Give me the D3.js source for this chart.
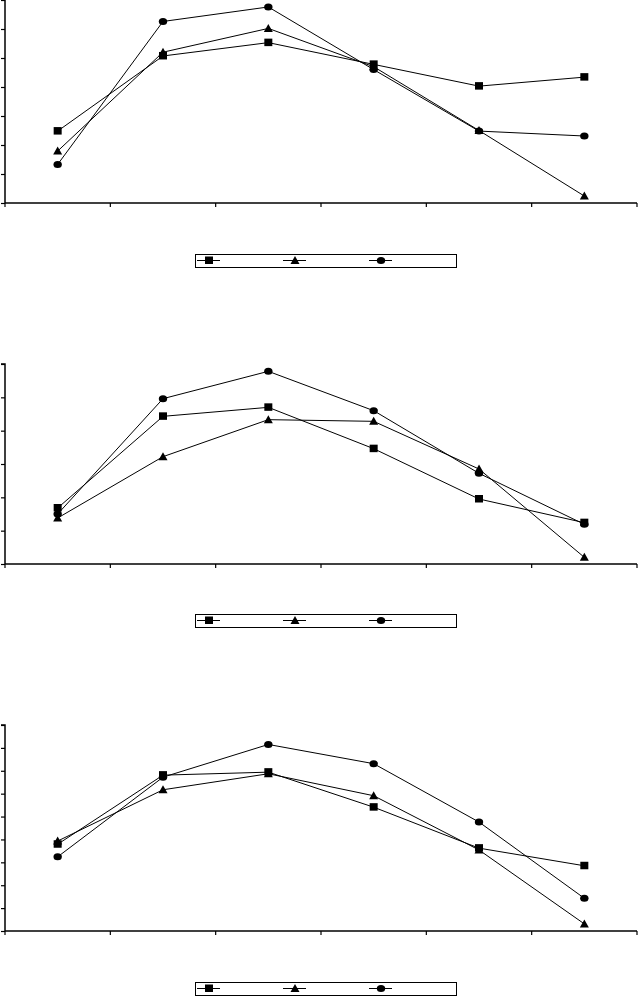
<!DOCTYPE html>
<html>
<head>
<meta charset="utf-8">
<script src="https://cdn.jsdelivr.net/npm/d3@7"></script>
<style>
html,body{margin:0;padding:0;background:#fff;}
svg{display:block;}
</style>
</head>
<body>
<svg id="chart" width="638" height="996"></svg>
<script>
// Data
const categories = ["1", "2", "3", "4", "5", "6"];
const seriesNames = ["Series A", "Series B", "Series C"];
const markers = ["square", "triangle", "circle"];

const panel1Square   = [2.48, 5.07, 5.53, 4.78, 4.03, 4.34];
const panel1Triangle = [1.79, 5.20, 6.02, 4.70, 2.50, 0.24];
const panel1Circle   = [1.33, 6.26, 6.76, 4.60, 2.48, 2.31];

const panel2Square   = [1.68, 4.43, 4.70, 3.46, 1.95, 1.24];
const panel2Triangle = [1.38, 3.22, 4.33, 4.28, 2.85, 0.20];
const panel2Circle   = [1.50, 4.96, 5.78, 4.60, 2.72, 1.19];

const panel3Square   = [3.79, 6.81, 6.94, 5.41, 3.62, 2.85];
const panel3Triangle = [3.93, 6.17, 6.87, 5.91, 3.54, 0.31];
const panel3Circle   = [3.24, 6.72, 8.15, 7.31, 4.76, 1.43];

const panel1Max = 7, panel2Max = 6, panel3Max = 9;

const panels = [
  {series: [panel1Square, panel1Triangle, panel1Circle], max: panel1Max, top: 0,   bottom: 203, legendY: 254},
  {series: [panel2Square, panel2Triangle, panel2Circle], max: panel2Max, top: 364, bottom: 564, legendY: 614},
  {series: [panel3Square, panel3Triangle, panel3Circle], max: panel3Max, top: 725, bottom: 931, legendY: 982}
];

const svg = d3.select("#chart");
const xLeft = 5, xRight = 637;

function drawMarker(g, type, cx, cy) {
  if (type === "square") {
    g.append("rect").attr("x", cx - 4).attr("y", cy - 4).attr("width", 8).attr("height", 7.5).attr("fill", "#000");
  } else if (type === "triangle") {
    g.append("path").attr("d", `M${cx},${cy-4.5}L${cx+4.5},${cy+3.5}L${cx-4.5},${cy+3.5}Z`).attr("fill", "#000");
  } else {
    g.append("ellipse").attr("cx", cx).attr("cy", cy).attr("rx", 4.2).attr("ry", 3.5).attr("fill", "#000");
  }
}

panels.forEach(p => {
  const g = svg.append("g");
  const x = d3.scaleBand().domain(categories).range([xLeft, xRight]).padding(0);
  const y = d3.scaleLinear().domain([0, p.max]).range([p.bottom, p.top]);

  // y axis
  const yAxis = d3.axisLeft(y).ticks(p.max).tickSize(4).tickFormat("");
  const ya = g.append("g").attr("transform", `translate(${xLeft},0)`).call(yAxis);
  ya.select(".domain").attr("stroke", "#000").attr("stroke-width", 1.5).attr("d", `M-4,${p.top}H0V${p.bottom}`);
  ya.selectAll(".tick line").attr("stroke", "#000").attr("stroke-width", 1.2);

  // x axis
  const xAxis = d3.axisBottom(x).tickSize(0).tickFormat("");
  const xa = g.append("g").attr("transform", `translate(0,${p.bottom})`).call(xAxis);
  xa.select(".domain").attr("stroke", "#000").attr("stroke-width", 1.5).attr("d", `M${xLeft},0H${xRight}`);
  // boundary ticks
  const bounds = categories.map(c => x(c)).concat([xRight]);
  xa.selectAll(".btick").data(bounds).enter().append("line")
    .attr("x1", d => d).attr("x2", d => d).attr("y1", 0).attr("y2", 4)
    .attr("stroke", "#000").attr("stroke-width", 1.2);

  const cx = c => x(c) + x.bandwidth() / 2;
  const line = d3.line().x((d, i) => cx(categories[i])).y(d => y(d));

  p.series.forEach((vals, si) => {
    g.append("path").datum(vals).attr("d", line)
      .attr("fill", "none").attr("stroke", "#000").attr("stroke-width", 1);
  });
  p.series.forEach((vals, si) => {
    vals.forEach((v, i) => drawMarker(g, markers[si], cx(categories[i]), y(v)));
  });

  // legend
  const lg = svg.append("g");
  lg.append("rect").attr("x", 195.5).attr("y", p.legendY + 0.5).attr("width", 261).attr("height", 13)
    .attr("fill", "#fff").attr("stroke", "#000").attr("stroke-width", 1);
  const legendX = [209, 295, 381];
  const my = p.legendY + 6.5;
  seriesNames.forEach((name, si) => {
    lg.append("line").attr("x1", legendX[si] - 12).attr("x2", legendX[si] + 11)
      .attr("y1", my).attr("y2", my).attr("stroke", "#000").attr("stroke-width", 1);
    drawMarker(lg, markers[si], legendX[si], my);
  });
});
</script>
</body>
</html>
